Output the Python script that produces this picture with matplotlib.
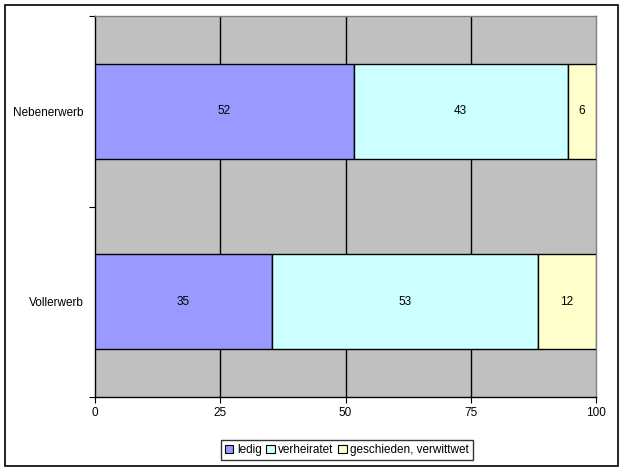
import matplotlib
matplotlib.use("Agg")
import matplotlib.pyplot as plt
from matplotlib.patches import Rectangle

categories = ["Vollerwerb", "Nebenerwerb"]
series_names = ["ledig", "verheiratet", "geschieden, verwittwet"]
ledig = [35.3, 51.6]
verheiratet = [53.1, 42.8]
geschieden = [11.6, 5.6]
x_ticks = [0, 25, 50, 75, 100]

colors = ["#9999FF", "#CCFFFF", "#FFFFCC"]

plt.rcParams['font.family'] = ['Liberation Sans', 'DejaVu Sans']
plt.rcParams['font.size'] = 8.5

fig = plt.figure(figsize=(6.24, 4.72), dpi=100)
fig.patches.append(Rectangle((5/624, 1-466/472), 613/624, 461/472, transform=fig.transFigure,
                             fill=False, edgecolor="black", linewidth=1.2, zorder=0))
ax = fig.add_axes([95/624, 1-397/472, 501/624, 381/472])
ax.set_facecolor("#C0C0C0")

ypos = list(range(len(categories)))
left = [0]*len(categories)
for name, vals, col in zip(series_names, [ledig, verheiratet, geschieden], colors):
    bars = ax.barh(ypos, vals, left=left, height=0.5, color=col, edgecolor="black",
                   linewidth=1.0, label=name, zorder=3)
    for b, v in zip(bars, vals):
        ax.text(b.get_x()+b.get_width()/2, b.get_y()+b.get_height()/2, f"{v:.0f}",
                ha="center", va="center", zorder=4)
    left = [l+v for l, v in zip(left, vals)]

ax.set_xlim(0, 100)
ax.set_ylim(-0.5, len(categories)-0.5)
ax.set_xticks(x_ticks)
ax.set_xticklabels([str(t) for t in x_ticks])
for t in x_ticks[1:-1]:
    ax.axvline(t, color="black", linewidth=1.0, zorder=1)

ax.set_yticks([-0.5, 0.5, 1.5])
ax.set_yticklabels([])
ax.set_yticks(ypos, minor=True)
ax.set_yticklabels(categories, minor=True)
ax.tick_params(axis="y", which="minor", length=0, pad=8)
ax.tick_params(axis="y", which="major", length=4, direction="out")
ax.tick_params(axis="x", length=4, direction="out", pad=3)

for s in ["left", "bottom"]:
    ax.spines[s].set_color("black")
    ax.spines[s].set_linewidth(1.0)
for s in ["top", "right"]:
    ax.spines[s].set_color("#808080")
    ax.spines[s].set_linewidth(1.0)

leg = fig.legend(loc="center", bbox_to_anchor=(347/624, 1-450/472), ncol=3, frameon=True,
                 fancybox=False, edgecolor="black", handlelength=0.7, handleheight=0.7,
                 handletextpad=0.3, columnspacing=0.4, borderpad=0.35, borderaxespad=0)
leg.get_frame().set_linewidth(1.0)
for h in leg.legend_handles:
    h.set_edgecolor("black")
    h.set_linewidth(0.8)

fig.savefig("out.png", dpi=100)
